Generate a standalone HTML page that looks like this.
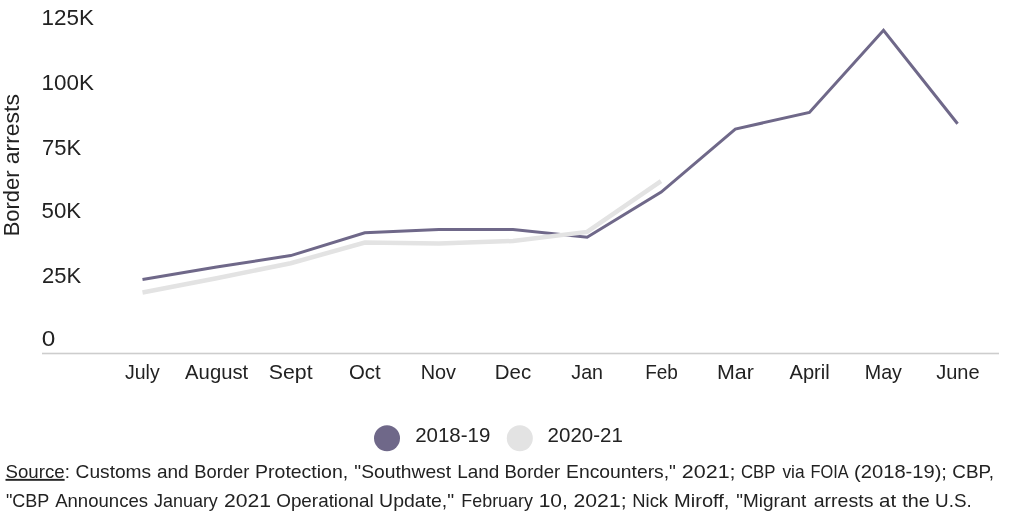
<!DOCTYPE html>
<html>
<head>
<meta charset="utf-8">
<style>
html,body{margin:0;padding:0;background:#fff;width:1024px;height:512px;overflow:hidden;}
svg{display:block;will-change:transform;}
text{font-family:"Liberation Sans",sans-serif;fill:#222;}
</style>
</head>
<body>
<svg width="1024" height="512" viewBox="0 0 1024 512">
<rect x="0" y="0" width="1024" height="512" fill="#fff"/>
<rect x="42" y="352.7" width="957" height="1.6" fill="#cdcdcd"/>
<polyline fill="none" stroke="#6f6889" stroke-width="3" points="142.5,279.5 216.6,267 290.7,255.6 364.8,232.8 438.9,229.5 513,229.4 587.1,237.3 661.2,192.1 735.3,129.1 809.4,112.4 883.5,30.3 957.6,123.8"/>
<polyline fill="none" stroke="#e3e3e3" stroke-width="4.5" points="142.5,292.5 216.6,278.2 290.7,263.2 364.8,242.6 438.9,243.6 513,241 587.1,231.9 661,181.1"/>
<circle cx="387" cy="438.2" r="13" fill="#6f6889"/>
<circle cx="519.8" cy="438.3" r="13" fill="#e3e3e3"/>
<text id="y125" x="41.48" y="24.80" font-size="21.5" textLength="52.38" lengthAdjust="spacingAndGlyphs">125K</text>
<text id="y100" x="41.48" y="89.80" font-size="21.5" textLength="52.38" lengthAdjust="spacingAndGlyphs">100K</text>
<text id="y75" x="42.04" y="155.00" font-size="21.5" textLength="39.16" lengthAdjust="spacingAndGlyphs">75K</text>
<text id="y50" x="41.59" y="217.80" font-size="21.5" textLength="39.62" lengthAdjust="spacingAndGlyphs">50K</text>
<text id="y25" x="42.08" y="283.00" font-size="21.5" textLength="39.20" lengthAdjust="spacingAndGlyphs">25K</text>
<text id="y0" x="41.81" y="345.60" font-size="21.5" textLength="13.55" lengthAdjust="spacingAndGlyphs">0</text>
<text id="xJuly" x="124.93" y="378.80" font-size="20.5" textLength="34.73" lengthAdjust="spacingAndGlyphs">July</text>
<text id="xAugust" x="185.12" y="378.80" font-size="20.5" textLength="63.05" lengthAdjust="spacingAndGlyphs">August</text>
<text id="xSept" x="268.80" y="378.80" font-size="20.5" textLength="43.78" lengthAdjust="spacingAndGlyphs">Sept</text>
<text id="xOct" x="348.89" y="378.80" font-size="20.5" textLength="31.67" lengthAdjust="spacingAndGlyphs">Oct</text>
<text id="xNov" x="420.70" y="378.80" font-size="20.5" textLength="35.37" lengthAdjust="spacingAndGlyphs">Nov</text>
<text id="xDec" x="494.79" y="378.80" font-size="20.5" textLength="36.33" lengthAdjust="spacingAndGlyphs">Dec</text>
<text id="xJan" x="571.33" y="378.80" font-size="20.5" textLength="31.69" lengthAdjust="spacingAndGlyphs">Jan</text>
<text id="xFeb" x="645.15" y="378.80" font-size="20.5" textLength="32.75" lengthAdjust="spacingAndGlyphs">Feb</text>
<text id="xMar" x="716.96" y="378.80" font-size="20.5" textLength="36.90" lengthAdjust="spacingAndGlyphs">Mar</text>
<text id="xApril" x="789.56" y="378.80" font-size="20.5" textLength="40.17" lengthAdjust="spacingAndGlyphs">April</text>
<text id="xMay" x="864.79" y="378.80" font-size="20.5" textLength="37.17" lengthAdjust="spacingAndGlyphs">May</text>
<text id="xJune" x="936.13" y="378.80" font-size="20.5" textLength="43.41" lengthAdjust="spacingAndGlyphs">June</text>
<text id="l1" x="415.15" y="441.80" font-size="19.5" textLength="75.20" lengthAdjust="spacingAndGlyphs">2018-19</text>
<text id="l2" x="547.60" y="441.80" font-size="19.5" textLength="75.24" lengthAdjust="spacingAndGlyphs">2020-21</text>
<text id="title1" transform="translate(19.00,236.31) rotate(-90)" x="0" y="0" font-size="22.4" textLength="65.86" lengthAdjust="spacingAndGlyphs">Border</text>
<text id="title2" transform="translate(19.00,164.30) rotate(-90)" x="0" y="0" font-size="22.4" textLength="70.26" lengthAdjust="spacingAndGlyphs">arrests</text>
<text x="5.53" y="477.90" font-size="19" textLength="64.29" lengthAdjust="spacingAndGlyphs"><tspan text-decoration="underline">Source</tspan>:</text>
<text x="75.61" y="477.90" font-size="19" textLength="75.54" lengthAdjust="spacingAndGlyphs">Customs</text>
<text x="156.94" y="477.90" font-size="19" textLength="31.63" lengthAdjust="spacingAndGlyphs">and</text>
<text x="194.27" y="477.90" font-size="19" textLength="55.12" lengthAdjust="spacingAndGlyphs">Border</text>
<text x="255.07" y="477.90" font-size="19" textLength="93.12" lengthAdjust="spacingAndGlyphs">Protection,</text>
<text x="354.32" y="477.90" font-size="19" textLength="96.76" lengthAdjust="spacingAndGlyphs">&quot;Southwest</text>
<text x="457.18" y="477.90" font-size="19" textLength="42.04" lengthAdjust="spacingAndGlyphs">Land</text>
<text x="504.41" y="477.90" font-size="19" textLength="55.78" lengthAdjust="spacingAndGlyphs">Border</text>
<text x="566.09" y="477.90" font-size="19" textLength="109.88" lengthAdjust="spacingAndGlyphs">Encounters,&quot;</text>
<text x="681.85" y="477.90" font-size="19" textLength="53.71" lengthAdjust="spacingAndGlyphs">2021;</text>
<text x="740.99" y="477.90" font-size="19" textLength="34.55" lengthAdjust="spacingAndGlyphs">CBP</text>
<text x="782.38" y="477.90" font-size="19" textLength="22.20" lengthAdjust="spacingAndGlyphs">via</text>
<text x="810.47" y="477.90" font-size="19" textLength="38.12" lengthAdjust="spacingAndGlyphs">FOIA</text>
<text x="854.10" y="477.90" font-size="19" textLength="92.88" lengthAdjust="spacingAndGlyphs">(2018-19);</text>
<text x="952.33" y="477.90" font-size="19" textLength="41.59" lengthAdjust="spacingAndGlyphs">CBP,</text>
<text x="5.91" y="506.60" font-size="19" textLength="43.42" lengthAdjust="spacingAndGlyphs">&quot;CBP</text>
<text x="55.17" y="506.60" font-size="19" textLength="92.86" lengthAdjust="spacingAndGlyphs">Announces</text>
<text x="154.06" y="506.60" font-size="19" textLength="63.79" lengthAdjust="spacingAndGlyphs">January</text>
<text x="223.90" y="506.60" font-size="19" textLength="47.03" lengthAdjust="spacingAndGlyphs">2021</text>
<text x="276.23" y="506.60" font-size="19" textLength="97.49" lengthAdjust="spacingAndGlyphs">Operational</text>
<text x="379.14" y="506.60" font-size="19" textLength="75.06" lengthAdjust="spacingAndGlyphs">Update,&quot;</text>
<text x="461.33" y="506.60" font-size="19" textLength="71.52" lengthAdjust="spacingAndGlyphs">February</text>
<text x="538.72" y="506.60" font-size="19" textLength="29.14" lengthAdjust="spacingAndGlyphs">10,</text>
<text x="573.55" y="506.60" font-size="19" textLength="53.00" lengthAdjust="spacingAndGlyphs">2021;</text>
<text x="632.29" y="506.60" font-size="19" textLength="35.76" lengthAdjust="spacingAndGlyphs">Nick</text>
<text x="674.01" y="506.60" font-size="19" textLength="55.44" lengthAdjust="spacingAndGlyphs">Miroff,</text>
<text x="736.36" y="506.60" font-size="19" textLength="69.89" lengthAdjust="spacingAndGlyphs">&quot;Migrant</text>
<text x="813.73" y="506.60" font-size="19" textLength="59.71" lengthAdjust="spacingAndGlyphs">arrests</text>
<text x="879.14" y="506.60" font-size="19" textLength="17.09" lengthAdjust="spacingAndGlyphs">at</text>
<text x="902.16" y="506.60" font-size="19" textLength="27.50" lengthAdjust="spacingAndGlyphs">the</text>
<text x="935.07" y="506.60" font-size="19" textLength="36.67" lengthAdjust="spacingAndGlyphs">U.S.</text>
</svg>
</body>
</html>
